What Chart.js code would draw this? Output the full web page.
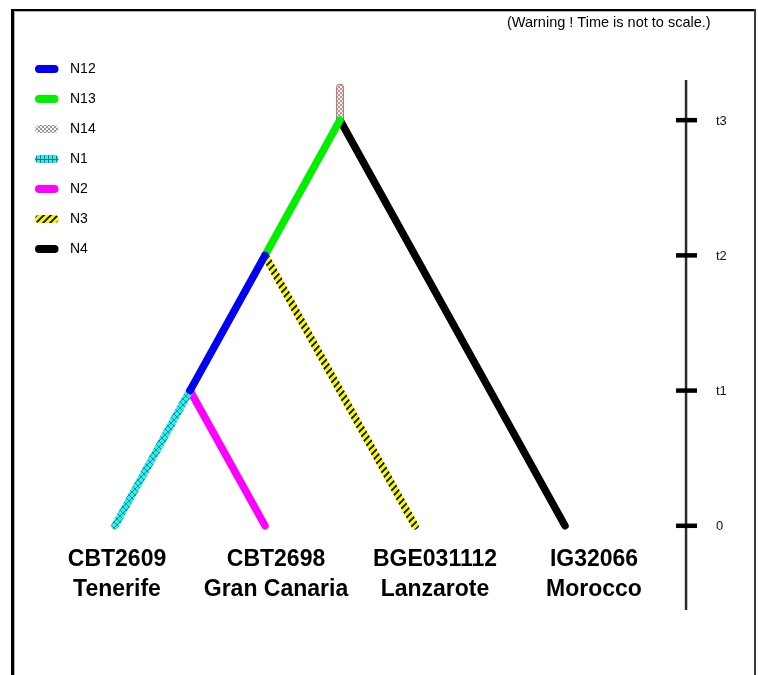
<!DOCTYPE html>
<html>
<head>
<meta charset="utf-8">
<title>Dated tree</title>
<script src="https://cdn.jsdelivr.net/npm/chart.js@4/dist/chart.umd.min.js"></script>
<style>
  html, body { margin: 0; padding: 0; background: #fff; overflow: hidden; }
  #wrap { position: relative; width: 758px; height: 675px; }
</style>
</head>
<body>
<div id="wrap"><canvas id="tree"></canvas></div>
<script>
// Tree nodes: leaves sit at time 0, internal nodes at t1..t3, the root stem rises above t3
const nodeIds   = ['CBT2609', 'CBT2698', 'BGE031112', 'IG32066', 't1', 't2', 't3', 'root'];
const nodeX     = [0, 1, 2, 3, 0.5, 1, 1.5, 1.5];
const nodeTime  = [0, 0, 0, 0, 1, 2, 3, 3.24];

// Branches, each named after the lineage it carries
const branchLabels = ['N12', 'N13', 'N14', 'N1', 'N2', 'N3', 'N4'];
const branchParent = ['t2', 't3', 'root', 't1', 't1', 't2', 't3'];
const branchChild  = ['t1', 't2', 't3', 'CBT2609', 'CBT2698', 'BGE031112', 'IG32066'];

// Leaf captions
const leafIds    = ['CBT2609', 'CBT2698', 'BGE031112', 'IG32066'];
const leafPlaces = ['Tenerife', 'Gran Canaria', 'Lanzarote', 'Morocco'];

// Time scale
const timeTicks      = [0, 1, 2, 3];
const timeTickLabels = ['0', 't1', 't2', 't3'];
const note = '(Warning ! Time is not to scale.)';

const canvas = document.getElementById('tree');
const ctx0 = canvas.getContext('2d');

function makePattern(w, h, paint) {
  const c = document.createElement('canvas');
  c.width = w; c.height = h;
  paint(c.getContext('2d'), w, h);
  return ctx0.createPattern(c, 'repeat');
}

const checker = makePattern(4, 4, (g) => {
  g.fillStyle = '#f2f2f2'; g.fillRect(0, 0, 4, 4);
  g.fillStyle = '#9c9c9c'; g.fillRect(0, 0, 2, 2); g.fillRect(2, 2, 2, 2);
});
const cyanCross = makePattern(6, 6, (g) => {
  g.fillStyle = '#30eef0'; g.fillRect(0, 0, 6, 6);
  g.strokeStyle = '#1e7a82'; g.lineWidth = 0.8;
  g.beginPath(); g.moveTo(0, 0); g.lineTo(6, 6); g.moveTo(6, 0); g.lineTo(0, 6); g.stroke();
});
const cyanGrid = makePattern(4, 8, (g) => {
  g.fillStyle = '#30eef0'; g.fillRect(0, 0, 4, 8);
  g.fillStyle = '#1e7a82'; g.fillRect(0, 0, 1, 8); g.fillRect(0, 7, 4, 1);
});
const yellowStripes = makePattern(7, 7, (g) => {
  g.fillStyle = '#f8f800'; g.fillRect(0, 0, 7, 7);
  g.strokeStyle = '#111'; g.lineWidth = 1.9;
  g.beginPath();
  g.moveTo(-1, 8); g.lineTo(8, -1);
  g.moveTo(-1, 1); g.lineTo(1, -1);
  g.moveTo(6, 8); g.lineTo(8, 6);
  g.stroke();
});

// stroke used along the branch, fill used for the legend swatch
const branchStyle = {
  N12: { line: '#0000f2', swatch: '#0000f2' },
  N13: { line: '#00f000', swatch: '#00f000' },
  N14: { line: checker,   swatch: checker },
  N1:  { line: cyanCross, swatch: cyanGrid },
  N2:  { line: '#ff00ff', swatch: '#ff00ff' },
  N3:  { line: yellowStripes, swatch: yellowStripes },
  N4:  { line: '#000000', swatch: '#000000' }
};

const nodePoint = (id) => {
  const i = nodeIds.indexOf(id);
  return { x: nodeX[i], y: nodeTime[i] };
};

const datasets = branchLabels.map((name, i) => ({
  label: name,
  data: [nodePoint(branchParent[i]), nodePoint(branchChild[i])],
  showLine: true,
  borderColor: branchStyle[name].line,
  backgroundColor: branchStyle[name].swatch,
  borderWidth: name === 'N14' ? 6 : 7.5,
  borderCapStyle: 'round',
  pointRadius: 0,
  pointHoverRadius: 0,
  tension: 0,
  clip: false
}));

// thin red rim around the root stem, drawn beneath it
const stem = branchLabels.indexOf('N14');
datasets.push({
  label: 'root rim',
  data: [nodePoint(branchParent[stem]), nodePoint(branchChild[stem])],
  showLine: true,
  borderColor: '#e46a6a',
  borderWidth: 8,
  borderCapStyle: 'round',
  pointRadius: 0,
  pointHoverRadius: 0,
  tension: 0,
  clip: false
});

const treeDecor = {
  id: 'treeDecor',
  beforeDraw(chart) {
    const c = chart.ctx;
    c.save();
    c.fillStyle = '#fff';
    c.fillRect(0, 0, chart.width, chart.height);
    // frame
    c.fillStyle = '#000';
    c.fillRect(11, 9, 3, chart.height);
    c.fillRect(11, 9, 745, 2);
    c.fillStyle = '#b5b5b5';
    c.fillRect(14, 11, 1, chart.height);
    c.fillRect(14, 11, 740, 1);
    c.fillStyle = '#3a3a3a';
    c.fillRect(754, 9, 2, chart.height);
    c.restore();
  },
  afterDraw(chart) {
    const c = chart.ctx;
    const xs = chart.scales.x, ys = chart.scales.y;
    c.save();

    // note in the top right corner
    c.fillStyle = '#000';
    c.font = '14.5px "Liberation Sans", Arial, sans-serif';
    c.textAlign = 'left';
    c.textBaseline = 'alphabetic';
    c.fillText(note, 507, 27);

    // legend
    c.font = '14px "Liberation Sans", Arial, sans-serif';
    c.textBaseline = 'middle';
    branchLabels.forEach((name, i) => {
      const y = 69 + 30 * i;
      c.strokeStyle = branchStyle[name].swatch;
      c.lineWidth = 8;
      c.lineCap = 'round';
      c.beginPath(); c.moveTo(39, y); c.lineTo(54.5, y); c.stroke();
      c.fillStyle = '#000';
      c.fillText(name, 70, y + 0.5);
    });

    // leaf captions
    c.font = 'bold 23px "Liberation Sans", Arial, sans-serif';
    c.textAlign = 'center';
    c.textBaseline = 'alphabetic';
    const base = ys.getPixelForValue(0);
    leafIds.forEach((id, i) => {
      const lx = xs.getPixelForValue(nodeX[nodeIds.indexOf(id)] * 1.06) + 2;
      c.fillText(id, lx, base + 40);
      c.fillText(leafPlaces[i], lx, base + 70);
    });

    // time scale on the right
    const ax = xs.getPixelForValue(3.807);
    c.strokeStyle = '#2b2b2b';
    c.lineWidth = 2.5;
    c.lineCap = 'butt';
    c.beginPath();
    c.moveTo(ax, ys.getPixelForValue(3.297));
    c.lineTo(ax, ys.getPixelForValue(-0.623));
    c.stroke();
    c.font = '13px "Liberation Sans", Arial, sans-serif';
    c.textAlign = 'left';
    c.textBaseline = 'middle';
    timeTicks.forEach((t, i) => {
      const ty = ys.getPixelForValue(t);
      c.strokeStyle = '#000';
      c.lineWidth = 4.5;
      c.beginPath(); c.moveTo(ax - 10, ty); c.lineTo(ax + 11, ty); c.stroke();
      c.fillStyle = '#111';
      c.fillText(timeTickLabels[i], 716, ty + 1);
    });
    c.restore();
  }
};

new Chart(canvas, {
  type: 'scatter',
  data: { datasets },
  options: {
    responsive: true,
    maintainAspectRatio: false,
    devicePixelRatio: 1,
    animation: false,
    events: [],
    layout: { padding: { left: 25, right: 13, top: 12, bottom: 14 } },
    scales: {
      x: { type: 'linear', min: -0.6, max: 4.2, display: false },
      y: { type: 'linear', min: -1, max: 3.8, display: false }
    },
    plugins: {
      legend: { display: false },
      tooltip: { enabled: false }
    }
  },
  plugins: [treeDecor]
});
</script>
</body>
</html>
